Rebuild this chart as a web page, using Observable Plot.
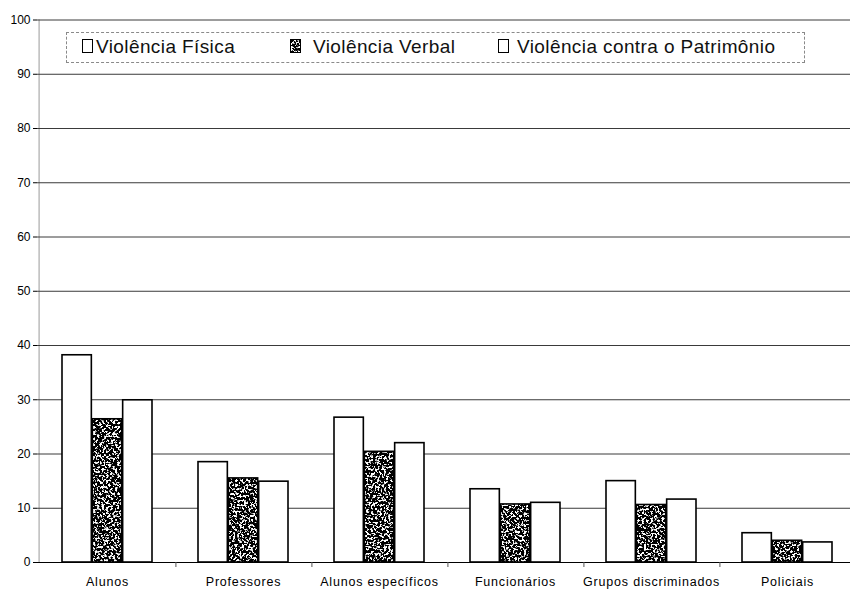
<!DOCTYPE html>
<html>
<head>
<meta charset="utf-8">
<script src="https://cdn.jsdelivr.net/npm/d3@7"></script>
<script src="https://cdn.jsdelivr.net/npm/@observablehq/plot@0.6"></script>
<style>
  html, body { margin: 0; padding: 0; background: #fff; overflow: hidden; }
  #wrap { position: relative; width: 850px; height: 590px; overflow: hidden; font-family: "Liberation Sans", Arial, sans-serif; }
  #chart svg { display: block; max-width: none !important; width: 858px !important; height: 590px !important; }
  #chart [aria-label^="x-axis"] text { font-size: 12.5px; letter-spacing: 0.8px; }
  #chart [aria-label^="y-axis"] text { font-size: 12px; }
  #legend { position: absolute; left: 66px; top: 32px; width: 737px; height: 29px; border: 1px dashed #8a8a8a; background: #fff; }
  .item { position: absolute; top: 3px; font-size: 19px; letter-spacing: 0.4px; line-height: 22px; color: #111; white-space: nowrap; }
  .swatch { position: absolute; top: 6px; width: 9px; height: 12px; border: 1px solid #000; background: #fff; }
</style>
</head>
<body>
<svg width="0" height="0" style="position:absolute">
  <defs>
    <!-- speckled black/white texture for the verbal-violence bars -->
    <filter id="grain" filterUnits="userSpaceOnUse" x="0" y="0" width="240" height="600">
      <feTurbulence type="fractalNoise" baseFrequency="0.45" numOctaves="3" seed="7" result="t"/>
      <feColorMatrix in="t" type="matrix" values="1 0 0 0 0  1 0 0 0 0  1 0 0 0 0  0 0 0 0 1" result="g"/>
      <feComponentTransfer in="g">
        <feFuncR type="linear" slope="12" intercept="-6.3"/>
        <feFuncG type="linear" slope="12" intercept="-6.3"/>
        <feFuncB type="linear" slope="12" intercept="-6.3"/>
      </feComponentTransfer>
    </filter>
    <pattern id="speckle" patternUnits="userSpaceOnUse" width="240" height="600">
      <rect width="240" height="600" fill="#000" filter="url(#grain)"/>
    </pattern>
  </defs>
</svg>
<div id="wrap">
  <div id="chart"></div>
  <div id="legend"></div>
</div>
<script>
// Categories and the three series (percentages)
const categories = ["Alunos", "Professores", "Alunos específicos", "Funcionários", "Grupos discriminados", "Policiais"];
const seriesNames = ["Violência Física", "Violência Verbal", "Violência contra o Patrimônio"];
const fisica = [38.2, 18.5, 26.7, 13.5, 15.0, 5.4];
const verbal = [26.4, 15.5, 20.4, 10.7, 10.6, 4.0];
const patrimonio = [29.9, 14.9, 22.0, 11.0, 11.6, 3.7];
const yTicks = [0, 10, 20, 30, 40, 50, 60, 70, 80, 90, 100];

const seriesValues = [fisica, verbal, patrimonio];
const seriesFill = ["#fff", "url(#speckle)", "#fff"];

const rows = seriesNames.flatMap((s, k) =>
  categories.map((c, i) => ({category: c, series: s, k, value: seriesValues[k][i]}))
);

// Layout: the plot runs a little past the right edge of the page
const W = 858, H = 590, mL = 37, mR = 0, mT = 19.5, mB = 28;
const padIn = 0.335, padOut = padIn / 2;
const step = (W - mL - mR) / (categories.length - padIn + 2 * padOut);
const third = step * (1 - padIn) / 3;

const bars = seriesNames.map((s, k) =>
  Plot.barY(rows.filter(d => d.k === k), {
    x: "category",
    y: "value",
    insetLeft: k * third,
    insetRight: (2 - k) * third,
    fill: seriesFill[k],
    stroke: "#000",
    strokeWidth: 1.6
  })
);

const chart = Plot.plot({
  width: W,
  height: H,
  marginLeft: mL,
  marginRight: mR,
  marginTop: mT,
  marginBottom: mB,
  style: {fontFamily: "'Liberation Sans', Arial, sans-serif", fontSize: "12px", color: "#000", background: "#fff", maxWidth: "none"},
  x: {type: "band", domain: categories, paddingInner: padIn, paddingOuter: padOut, tickSize: 0, tickPadding: 15, label: null},
  y: {domain: [0, 100], ticks: yTicks, tickSize: 4, tickPadding: 3, label: null},
  marks: [
    // left edge of the plot area
    Plot.ruleX([categories[0]], {x: d => d, dx: -step / 2, stroke: "#9a9a9a"}),
    Plot.ruleY(yTicks.filter(t => t > 0), {stroke: "#3a3a3a", strokeWidth: 1}),
    ...bars,
    Plot.ruleY([0], {stroke: "#000", strokeWidth: 1.2}),
    // small separator ticks between category groups
    Plot.ruleX(categories, {x: d => d, y1: 0, y2: 0, dx: step / 2, insetBottom: -5, stroke: "#555"})
  ]
});
document.getElementById("chart").appendChild(chart);

// Legend drawn inside the plot area
const legend = document.getElementById("legend");
const legendPos = [{sw: 15, tx: 29}, {sw: 223, tx: 246}, {sw: 431, tx: 450}];
seriesNames.forEach((s, k) => {
  const sw = document.createElement("div");
  sw.className = "swatch";
  sw.style.left = legendPos[k].sw + "px";
  if (k === 1) {
    sw.innerHTML = '<svg width="9" height="12" style="display:block"><rect width="9" height="12" fill="url(#speckle)"/></svg>';
  }
  legend.appendChild(sw);
  const t = document.createElement("div");
  t.className = "item";
  t.style.left = legendPos[k].tx + "px";
  t.textContent = s;
  legend.appendChild(t);
});
</script>
</body>
</html>
